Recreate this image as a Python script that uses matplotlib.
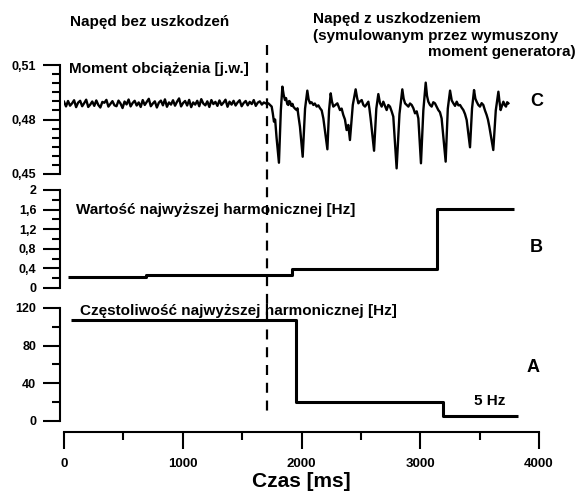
import numpy as np
import matplotlib
matplotlib.use('Agg')
import matplotlib.pyplot as plt
from matplotlib.transforms import blended_transform_factory

plt.rcParams['font.family'] = ['Liberation Sans', 'DejaVu Sans']
plt.rcParams['font.weight'] = 'bold'

# --- panel C: load torque [p.u.] ---
t_healthy = list(np.arange(0, 1717, 17))
m_healthy = [0.4898, 0.4872, 0.4902, 0.4876, 0.4889, 0.4906, 0.4868, 0.4893, 0.4903, 0.4873,
             0.4890, 0.4909, 0.4869, 0.4882, 0.4899, 0.4875, 0.4905, 0.4880, 0.4866, 0.4897,
             0.4892, 0.4908, 0.4871, 0.4886, 0.4901, 0.4878, 0.4873, 0.4904, 0.4888, 0.4863,
             0.4899, 0.4883, 0.4910, 0.4872, 0.4891, 0.4903, 0.4877, 0.4894, 0.4869, 0.4907,
             0.4880, 0.4897, 0.4914, 0.4873, 0.4888, 0.4900, 0.4866, 0.4893, 0.4904, 0.4878,
             0.4911, 0.4870, 0.4894, 0.4882, 0.4906, 0.4876, 0.4898, 0.4916, 0.4872, 0.4891,
             0.4902, 0.4877, 0.4908, 0.4868, 0.4894, 0.4882, 0.4903, 0.4873, 0.4912, 0.4888,
             0.4878, 0.4900, 0.4869, 0.4907, 0.4885, 0.4897, 0.4875, 0.4905, 0.4880, 0.4893,
             0.4909, 0.4870, 0.4898, 0.4882, 0.4903, 0.4877, 0.4894, 0.4906, 0.4873, 0.4891,
             0.4902, 0.4878, 0.4897, 0.4885, 0.4907, 0.4875, 0.4893, 0.4900, 0.4882, 0.4894,
             0.4888]
t_fault = [1709, 1721, 1735, 1749, 1758, 1768, 1778, 1790, 1810,
           1826, 1839, 1850, 1861, 1870, 1880, 1889, 1896, 1903, 1915, 1924, 1931, 1945, 1959, 1966, 1973, 1987, 2010,
           2030, 2049, 2060, 2072, 2085, 2100, 2112, 2128, 2142, 2156, 2170, 2184, 2218,
           2232, 2246, 2256, 2268, 2285, 2302, 2313, 2324, 2338, 2352, 2366, 2380, 2394, 2408,
           2432, 2456, 2468, 2479, 2493, 2507, 2521, 2535, 2549, 2563, 2572, 2582, 2611,
           2630, 2647, 2661, 2675, 2689, 2703, 2717, 2731, 2745, 2759, 2773, 2801,
           2825, 2849, 2860, 2872, 2886, 2900, 2914, 2928, 2942, 2956, 2970, 2984, 3006,
           3026, 3046, 3057, 3068, 3082, 3096, 3110, 3124, 3138, 3152, 3166, 3180, 3214,
           3232, 3251, 3265, 3279, 3293, 3307, 3321, 3335, 3349, 3363, 3377, 3391, 3419,
           3436, 3453, 3464, 3475, 3489, 3503, 3517, 3531, 3545, 3559, 3570, 3582, 3615,
           3636, 3658, 3667, 3677, 3688, 3700, 3711, 3722, 3732, 3742]
m_fault = [0.4888, 0.4889, 0.4880, 0.4871, 0.4835, 0.4788, 0.4800, 0.4700, 0.4562,
           0.4850, 0.4981, 0.4935, 0.4907, 0.4918, 0.4885, 0.4880, 0.4902, 0.4898, 0.4875, 0.4886, 0.4871, 0.4860, 0.4852, 0.4862, 0.4825, 0.4760, 0.4595,
           0.4860, 0.4959, 0.4910, 0.4889, 0.4895, 0.4880, 0.4888, 0.4871, 0.4878, 0.4862, 0.4850, 0.4806, 0.4636,
           0.4850, 0.4944, 0.4900, 0.4871, 0.4880, 0.4889, 0.4870, 0.4852, 0.4860, 0.4825, 0.4800, 0.4742, 0.4770, 0.4687,
           0.4880, 0.4966, 0.4920, 0.4889, 0.4900, 0.4907, 0.4880, 0.4871, 0.4885, 0.4898, 0.4860, 0.4806, 0.4628,
           0.4860, 0.4940, 0.4890, 0.4871, 0.4898, 0.4875, 0.4852, 0.4880, 0.4871, 0.4845, 0.4816, 0.4531,
           0.4830, 0.4966, 0.4915, 0.4889, 0.4880, 0.4871, 0.4888, 0.4880, 0.4862, 0.4834, 0.4845, 0.4806, 0.4559,
           0.4850, 0.5003, 0.4930, 0.4898, 0.4880, 0.4871, 0.4895, 0.4889, 0.4870, 0.4852, 0.4840, 0.4806, 0.4568,
           0.4860, 0.4959, 0.4905, 0.4889, 0.4875, 0.4898, 0.4878, 0.4880, 0.4865, 0.4852, 0.4830, 0.4797, 0.4647,
           0.4860, 0.4962, 0.4915, 0.4898, 0.4880, 0.4871, 0.4890, 0.4880, 0.4850, 0.4825, 0.4800, 0.4760, 0.4632,
           0.4850, 0.4953, 0.4900, 0.4852, 0.4875, 0.4898, 0.4880, 0.4871, 0.4895, 0.4889]

# --- panel B: amplitude of highest harmonic ---
t_amp = [35, 690, 1920, 3140, 3790]
amp = [0.23, 0.27, 0.38, 1.62, 1.62]

# --- panel A: frequency of highest harmonic ---
t_freq = [60, 1952, 3190, 3820]
freq = [107, 20, 5, 5]

fault_time = 1709

W, H = 576, 495


def box(l, t, r, b):
    return [l / W, 1 - b / H, (r - l) / W, (b - t) / H]


def ftext(x, y, s, **kw):
    fig.text(x / W, 1 - y / H, s, va='center', fontweight='bold', **kw)


fig = plt.figure(figsize=(5.76, 4.95), dpi=100)
axC = fig.add_axes(box(64, 65, 539, 174))
axB = fig.add_axes(box(64, 190, 539, 288))
axA = fig.add_axes(box(64, 308, 539, 432))

for ax in (axC, axB, axA):
    ax.set_xlim(0, 4000)
    ax.patch.set_visible(False)
    ax.spines['top'].set_visible(False)
    ax.spines['right'].set_visible(False)
    ax.spines['left'].set_linewidth(1.5)
    ax.spines['left'].set_position(('outward', 2.9))
    ax.tick_params(axis='y', which='major', direction='out', length=12, width=1.5,
                   labelsize=9, pad=5)
    ax.tick_params(axis='y', which='minor', direction='out', length=6, width=1.5)
for ax in (axC, axB):
    ax.spines['bottom'].set_visible(False)
    ax.tick_params(axis='x', which='both', bottom=False, labelbottom=False)

axC.plot(t_healthy + t_fault, m_healthy + m_fault, color='black', lw=1.7)
axC.set_ylim(0.45, 0.51)
axC.set_yticks([0.45, 0.48, 0.51])
axC.set_yticklabels(['0,45', '0,48', '0,51'])
axC.set_yticks(np.arange(0.45, 0.5101, 0.005), minor=True)

axB.plot(t_amp, amp, color='black', lw=2.2, drawstyle='steps-post', solid_capstyle='butt')
axB.set_ylim(0, 2)
axB.set_yticks([0, 0.4, 0.8, 1.2, 1.6, 2])
axB.set_yticklabels(['0', '0,4', '0,8', '1,2', '1,6', '2'])
axB.set_yticks(np.arange(0, 2.01, 0.2), minor=True)

axA.plot(t_freq, freq, color='black', lw=2.2, drawstyle='steps-post', solid_capstyle='butt')
axA.set_ylim(-11.7, 120)
axA.spines['left'].set_bounds(0, 120)
axA.set_yticks([0, 40, 80, 120])
axA.set_yticklabels(['0', '40', '80', '120'])
axA.set_yticks(np.arange(0, 121, 20), minor=True)
axA.spines['bottom'].set_linewidth(1.5)
axA.spines['bottom'].set_bounds(0, 4000)
axA.set_xticks([0, 1000, 2000, 3000, 4000])
axA.set_xticks(np.arange(0, 4001, 500), minor=True)
axA.tick_params(axis='x', which='major', direction='out', length=12, width=1.5,
                labelsize=9.5, pad=7)
axA.tick_params(axis='x', which='minor', direction='out', length=6, width=1.5)
axA.set_xlabel('Czas [ms]', fontsize=15, fontweight='bold', labelpad=1)

# dashed line marking the fault onset
tr = blended_transform_factory(axA.transData, fig.transFigure)
axA.plot([fault_time, fault_time], [1 - 45 / H, 1 - 418 / H], transform=tr,
         color='black', lw=1.6, ls=(0, (4.5, 3.5)), clip_on=False)

ftext(70, 22, 'Napęd bez uszkodzeń', fontsize=11)
ftext(313, 19, 'Napęd z uszkodzeniem', fontsize=11)
ftext(313, 36, '(symulowanym przez wymuszony', fontsize=11)
ftext(576, 52, 'moment generatora)', fontsize=11, ha='right')
ftext(69, 69, 'Moment obciążenia [j.w.]', fontsize=11)
ftext(530, 101, 'C', fontsize=13)
ftext(76, 210, 'Wartość najwyższej harmonicznej [Hz]', fontsize=11)
ftext(530, 247, 'B', fontsize=13)
ftext(80, 311, 'Częstoliwość najwyższej harmonicznej [Hz]', fontsize=11)
ftext(527, 367, 'A', fontsize=13)
ftext(474, 401, '5 Hz', fontsize=11)

fig.savefig('out.png', dpi=100)
